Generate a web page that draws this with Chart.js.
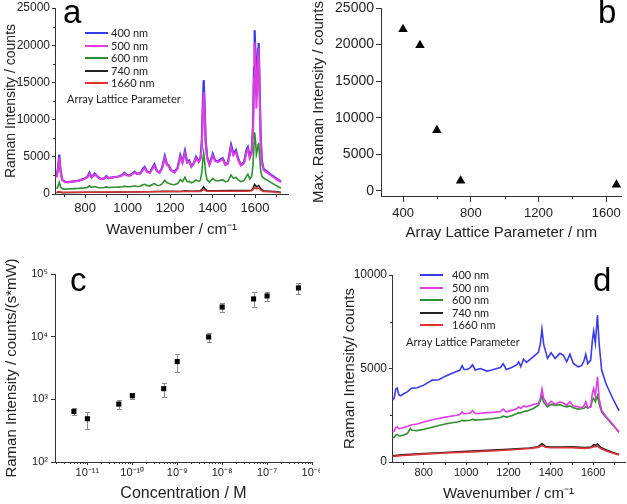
<!DOCTYPE html>
<html>
<head>
<meta charset="utf-8">
<script src="https://cdn.jsdelivr.net/npm/chart.js@4.4.1/dist/chart.umd.min.js"></script>
<style>
  body { margin: 0; background: #fff; }
  #page { position: relative; width: 627px; height: 504px; overflow: hidden; font-family: "Liberation Sans", Arial, sans-serif; }
  #page canvas { position: absolute; }
  .letter { position: absolute; font-size: 33px; line-height: 33px; color: #000; }
  .leg { position: absolute; font-family: Lato, "Open Sans", sans-serif; font-size: 11px; line-height: 12px; color: #222; white-space: nowrap; }
  .swatch { position: absolute; height: 2px; width: 23px; }
</style>
</head>
<body>
<div id="page">
  <canvas id="chartA" width="310" height="250" style="left:0;top:0"></canvas>
  <canvas id="chartB" width="317" height="250" style="left:310px;top:0"></canvas>
  <canvas id="chartC" width="320" height="254" style="left:0;top:250px"></canvas>
  <canvas id="chartD" width="317" height="254" style="left:310px;top:250px"></canvas>
  <div class="letter" style="left:63px;top:-5px">a</div>
  <div class="letter" style="left:598px;top:-5px">b</div>
  <div class="letter" style="left:70px;top:263px">c</div>
  <div class="letter" style="left:593px;top:263px">d</div>
</div>
<script>
// ---- data ----
const seriesLabels = ["400 nm", "500 nm", "600 nm", "740 nm", "1660 nm"];
const seriesColors = ["#3a3ae6", "#e03ce0", "#2f8f2f", "#222222", "#e03333"];

// panel a: full spectra
const waveA = [665, 672, 678, 684, 692, 705, 720, 745, 770, 795,
  810, 820, 830, 845, 860, 875, 890, 900, 910, 930,
  955, 975, 985, 995, 1010, 1025, 1032, 1045, 1060, 1072,
  1080, 1092, 1105, 1118, 1126, 1138, 1150, 1162, 1175, 1185,
  1192, 1205, 1220, 1235, 1248, 1258, 1270, 1280, 1290, 1300,
  1312, 1322, 1335, 1343, 1349, 1354, 1358, 1362, 1367, 1374,
  1385, 1401, 1412, 1425, 1435, 1448, 1460, 1472, 1487, 1498,
  1510, 1520, 1533, 1548, 1560, 1566, 1575, 1584, 1590, 1595,
  1598, 1602, 1606, 1610, 1614, 1617, 1621, 1626, 1632, 1640,
  1660, 1690, 1722];
const blueA = [2300, 3400, 5300, 3200, 1900, 1650, 1600, 1700, 1800, 2050,
  2300, 2850, 2250, 2750, 2300, 2000, 2100, 2400, 2150, 2250,
  2350, 2550, 2850, 2550, 2500, 2800, 3000, 2700, 2800, 3400,
  3650, 3000, 2900, 3600, 4000, 3100, 2900, 3500, 5100, 4000,
  3900, 3200, 2950, 3500, 5200, 4300, 5800, 4300, 4500, 3700,
  4200, 5000, 4400, 4800, 7000, 12000, 15300, 12500, 7500, 5000,
  4000, 5400, 4500, 4400, 4600, 4800, 4000, 4200, 6600, 5400,
  5900, 4800, 3900, 4300, 6000, 6300, 5000, 5800, 9000, 17000,
  22000, 18500, 14500, 16500, 19500, 20300, 15000, 8000, 4500, 3400,
  2900, 2300, 1650];
const magentaA = [2200, 3200, 4900, 3000, 1850, 1600, 1570, 1680, 1780, 2000,
  2250, 2700, 2200, 2600, 2250, 1980, 2080, 2350, 2120, 2220,
  2320, 2500, 2750, 2500, 2470, 2720, 2900, 2650, 2760, 3250,
  3500, 2950, 2850, 3450, 3800, 3050, 2850, 3400, 4850, 3900,
  3800, 3150, 2900, 3400, 4950, 4200, 5500, 4200, 4350, 3650,
  4100, 4800, 4300, 4650, 6500, 10800, 13700, 11300, 6900, 4800,
  3900, 5150, 4400, 4300, 4450, 4650, 3900, 4100, 6250, 5200,
  5650, 4650, 3800, 4150, 5700, 6000, 4850, 5500, 8200, 15500,
  20400, 17000, 11500, 14000, 18500, 19600, 14000, 7500, 4200, 3200,
  2800, 2200, 1600];
const greenA = [700, 1000, 1600, 1000, 720, 650, 680, 720, 760, 820,
  880, 1100, 900, 1000, 880, 850, 870, 950, 880, 900,
  930, 980, 1050, 980, 970, 1050, 1100, 1000, 1050, 1250,
  1300, 1120, 1100, 1300, 1400, 1180, 1150, 1350, 1850, 1500,
  1450, 1300, 1250, 1400, 1950, 1650, 2250, 1650, 1700, 1500,
  1650, 1900, 1700, 1900, 2900, 4500, 5500, 4500, 2900, 1900,
  1600, 2100, 1800, 1750, 1850, 1900, 1650, 1700, 2550, 2100,
  2250, 1900, 1650, 1800, 2400, 2650, 2000, 2400, 3800, 6800,
  8300, 7200, 5300, 5800, 6600, 6900, 5200, 3200, 2400, 2150,
  1800, 1300, 780];
const waveALow = [665, 678, 692, 745, 820, 900, 1000, 1100, 1175, 1248,
  1270, 1300, 1343, 1352, 1358, 1364, 1374, 1401, 1487, 1560,
  1584, 1592, 1598, 1604, 1608, 1613, 1617, 1622, 1630, 1640, 1690, 1722];
const blackA = [150, 300, 180, 200, 230, 250, 280, 300, 360, 350,
  420, 380, 450, 700, 950, 700, 450, 430, 480, 470,
  520, 900, 1300, 1050, 950, 1100, 1150, 900, 600, 450, 320, 230];
const redA = [250, 330, 240, 230, 240, 260, 270, 290, 320, 320,
  350, 330, 350, 480, 620, 480, 360, 360, 380, 380,
  420, 650, 880, 720, 680, 780, 800, 650, 450, 350, 260, 180];

// panel b: maximum intensity vs lattice parameter
const latticeNm = [400, 500, 600, 740, 1660];
const maxIntensity = [22100, 19900, 8300, 1400, 850];

// panel c: concentration series
const concM = [5e-12, 1e-11, 5e-11, 1e-10, 5e-10, 1e-9, 5e-9, 1e-8, 5e-8, 1e-7, 5e-7];
const intensityC = [640, 490, 840, 1140, 1480, 4000, 9900, 29700, 40000, 44600, 60000];
const errLowC = [570, 340, 705, 1020, 1100, 2740, 8100, 24500, 29700, 36600, 48000];
const errHighC = [720, 620, 960, 1260, 1820, 5280, 11500, 35000, 51000, 52000, 71000];

// panel d: background spectra
const waveD = [652, 660, 668, 675, 682, 690, 705, 722, 737, 745,
  769, 800, 840, 871, 902, 934, 957, 970, 981, 990,
  1005, 1020, 1030, 1043, 1067, 1098, 1121, 1145, 1162, 1175,
  1190, 1215, 1240, 1248, 1258, 1271, 1285, 1318, 1341, 1350,
  1358, 1366, 1384, 1401, 1420, 1443, 1459, 1475, 1490, 1506,
  1529, 1545, 1556, 1565, 1574, 1588, 1596, 1602, 1610, 1620,
  1628, 1640, 1660, 1690, 1722];
const blueD = [3300, 3400, 3900, 3950, 3600, 3540, 3650, 3750, 3900, 3950,
  3970, 4110, 4380, 4400, 4590, 4740, 4850, 4900, 5150, 4950,
  4950, 5050, 5200, 4920, 5000, 4860, 4920, 5000, 5050, 5250,
  4950, 5050, 5200, 5350, 5100, 5500, 5330, 5630, 5860, 6300,
  7100, 6300, 5540, 5840, 5540, 5810, 5700, 5360, 5760, 5270,
  5090, 5150, 5400, 5760, 5270, 5450, 6500, 7000, 6350, 7860,
  6300, 4900, 4200, 3450, 2730];
const magentaD = [1600, 1650, 1850, 1880, 1780, 1790, 1850, 1900, 1970, 1990,
  2030, 2140, 2260, 2330, 2400, 2460, 2500, 2540, 2680, 2580,
  2600, 2620, 2750, 2590, 2610, 2640, 2650, 2680, 2700, 2830,
  2680, 2760, 2860, 2950, 2860, 3000, 2950, 3080, 3130, 3400,
  3900, 3400, 3040, 3250, 3080, 3220, 3150, 3040, 3220, 3000,
  2950, 2900, 3000, 3220, 2900, 2950, 3700, 3930, 3540, 4560,
  3400, 2750, 2450, 2050, 1580];
const greenD = [1290, 1320, 1450, 1470, 1400, 1390, 1450, 1520, 1790, 1700,
  1680, 1750, 1860, 1950, 2030, 2100, 2140, 2170, 2230, 2200,
  2220, 2230, 2280, 2240, 2260, 2290, 2310, 2350, 2380, 2450,
  2400, 2470, 2590, 2640, 2620, 2700, 2720, 2860, 3040, 3250,
  3540, 3200, 2950, 3080, 3040, 3060, 3000, 2950, 3000, 2900,
  2830, 2850, 2870, 2950, 2880, 2950, 3300, 3400, 3220, 3540,
  3100, 2650, 2400, 2000, 1610];
const waveDLow = [652, 700, 800, 900, 1000, 1100, 1200, 1300, 1340, 1358,
  1375, 1400, 1450, 1500, 1560, 1590, 1602, 1612, 1620, 1635, 1660, 1690, 1722];
const blackD = [330, 380, 450, 510, 570, 620, 680, 750, 820, 990,
  830, 800, 800, 810, 770, 800, 930, 900, 960, 780, 650, 520, 400];
const redD = [300, 350, 420, 480, 530, 580, 640, 720, 780, 880,
  790, 760, 760, 770, 730, 760, 830, 820, 850, 720, 600, 480, 380];

// tick values
const ticksWave = [800, 1000, 1200, 1400, 1600];
const minorWave = [700, 900, 1100, 1300, 1500, 1700];
const ticksA = [0, 5000, 10000, 15000, 20000, 25000];
const minorA = [2500, 7500, 12500, 17500, 22500];
const ticksBx = [400, 800, 1200, 1600];
const minorBx = [600, 1000, 1400];
const ticksBy = [0, 5000, 10000, 15000, 20000, 25000];
const ticksCx = [1e-11, 1e-10, 1e-9, 1e-8, 1e-7, 1e-6];
const ticksCy = [1e2, 1e3, 1e4, 1e5];
const ticksDy = [0, 5000, 10000];
const minorDy = [2500, 7500];

const FONT = '"Liberation Sans", Arial, sans-serif';

function pts(xs, ys) {
    return xs.map((x, i) => ({ x: x, y: ys[i] }));
}

function sup(n) {
    const map = { "-": "\u207B", "0": "\u2070", "1": "\u00B9", "2": "\u00B2", "3": "\u00B3",
        "4": "\u2074", "5": "\u2075", "6": "\u2076", "7": "\u2077", "8": "\u2078", "9": "\u2079" };
    return String(n).split("").map(c => map[c]).join("");
}

function axis(o) {
    return {
        type: o.type || "linear",
        min: o.min,
        max: o.max,
        grid: { display: true, drawOnChartArea: false, drawTicks: true, tickLength: o.tickLen, tickColor: "#333", tickWidth: 1 },
        border: { display: true, color: "#333", width: 1 },
        ticks: {
            color: "#222",
            font: { family: FONT, size: o.tickSize },
            padding: o.tickPad,
            maxRotation: 0,
            autoSkip: false,
            callback: o.label || (v => String(v))
        },
        title: {
            display: true,
            text: o.title,
            color: "#222",
            font: { family: FONT, size: o.titleSize },
            padding: o.titlePad
        },
        afterBuildTicks: s => { s.ticks = o.ticks.map(v => ({ value: v })); },
        afterFit: s => {
            if (s.isHorizontal()) s.height = o.size; else s.width = o.size;
            s.paddingLeft = 0; s.paddingRight = 0; s.paddingTop = 0; s.paddingBottom = 0;
        }
    };
}

const minorTicks = {
    id: "minorTicks",
    afterDraw(chart, args, opts) {
        const ctx = chart.ctx;
        ctx.save();
        ctx.strokeStyle = "#333";
        ctx.lineWidth = 1;
        (opts.marks || []).forEach(m => {
            const s = chart.scales[m.axis];
            m.values.forEach(v => {
                const p = Math.round(s.getPixelForValue(v)) + 0.5;
                ctx.beginPath();
                if (s.isHorizontal()) {
                    ctx.moveTo(p, s.top);
                    ctx.lineTo(p, s.top + m.len);
                } else {
                    ctx.moveTo(s.right, p);
                    ctx.lineTo(s.right - m.len, p);
                }
                ctx.stroke();
            });
        });
        ctx.restore();
    }
};

const errorBars = {
    id: "errorBars",
    beforeDatasetsDraw(chart) {
        const xs = chart.scales.x, ys = chart.scales.y, ctx = chart.ctx;
        ctx.save();
        ctx.strokeStyle = "#8c8c8c";
        ctx.lineWidth = 1;
        concM.forEach((c, i) => {
            const px = Math.round(xs.getPixelForValue(c)) + 0.5;
            const lo = Math.round(ys.getPixelForValue(errLowC[i])) + 0.5;
            const hi = Math.round(ys.getPixelForValue(errHighC[i])) + 0.5;
            ctx.beginPath();
            ctx.moveTo(px, lo); ctx.lineTo(px, hi);
            ctx.moveTo(px - 2.5, lo); ctx.lineTo(px + 2.5, lo);
            ctx.moveTo(px - 2.5, hi); ctx.lineTo(px + 2.5, hi);
            ctx.stroke();
        });
        ctx.restore();
    }
};

function lineSet(data, color, width) {
    return { data: data, showLine: true, borderColor: color, borderWidth: width, pointRadius: 0, fill: false, tension: 0 };
}

const basePlugins = { legend: { display: false }, tooltip: { enabled: false } };

// a
new Chart(document.getElementById("chartA"), {
    type: "scatter",
    data: {
        datasets: [
            lineSet(pts(waveALow, redA), seriesColors[4], 1.5),
            lineSet(pts(waveALow, blackA), seriesColors[3], 1.5),
            lineSet(pts(waveA, magentaA), seriesColors[1], 2),
            lineSet(pts(waveA, blueA), seriesColors[0], 2.2),
            lineSet(pts(waveA, greenA), seriesColors[2], 1.6)
        ]
    },
    options: {
        responsive: false, animation: false,
        layout: { padding: { top: 8, right: 22, left: 0, bottom: 0 } },
        plugins: Object.assign({ minorTicks: { marks: [
            { axis: "x", values: minorWave, len: 3 },
            { axis: "y", values: minorA, len: 2 }
        ] } }, basePlugins),
        scales: {
            x: axis({ min: 658, max: 1755, ticks: ticksWave, tickLen: 4, tickSize: 13, tickPad: 3,
                title: "Wavenumber / cm\u207B\u00B9", titleSize: 15, titlePad: { top: 0, bottom: 11 }, size: 56 }),
            y: axis({ min: 0, max: 25000, ticks: ticksA, tickLen: 3, tickSize: 12, tickPad: 2,
                title: "Raman Intensity / counts", titleSize: 14, titlePad: { top: 3, bottom: 0 }, size: 55 })
        }
    },
    plugins: [minorTicks]
});

// b
new Chart(document.getElementById("chartB"), {
    type: "scatter",
    data: {
        datasets: [{
            data: pts(latticeNm, maxIntensity),
            pointStyle: "triangle", pointRadius: 5.5,
            backgroundColor: "#000", borderColor: "#000", borderWidth: 0
        }]
    },
    options: {
        responsive: false, animation: false,
        layout: { padding: { top: 8, right: 2, left: 0, bottom: 0 } },
        plugins: Object.assign({ minorTicks: { marks: [
            { axis: "x", values: minorBx, len: 3 }
        ] } }, basePlugins),
        scales: {
            x: axis({ min: 270, max: 1690, ticks: ticksBx, tickLen: 6, tickSize: 13, tickPad: 4,
                title: "Array Lattice Parameter / nm", titleSize: 15, titlePad: { top: 0, bottom: 8 }, size: 54 }),
            y: axis({ min: -700, max: 25000, ticks: ticksBy, tickLen: 5, tickSize: 14, tickPad: 2,
                title: "Max. Raman Intensity / counts", titleSize: 15, titlePad: { top: 0, bottom: 0 }, size: 71 })
        }
    },
    plugins: [minorTicks]
});

// c
const minorCx = [];
[1e-12, 1e-11, 1e-10, 1e-9, 1e-8, 1e-7].forEach(d => {
    [2, 3, 4, 5, 6, 7, 8, 9].forEach(k => { if (d * k > 1.9e-12) minorCx.push(d * k); });
});
new Chart(document.getElementById("chartC"), {
    type: "scatter",
    data: {
        datasets: [{
            data: pts(concM, intensityC),
            pointStyle: "rect", pointRadius: 3.6,
            backgroundColor: "#000", borderColor: "#000", borderWidth: 0
        }]
    },
    options: {
        responsive: false, animation: false,
        layout: { padding: { top: 24, right: 8, left: 0, bottom: 0 } },
        plugins: Object.assign({ minorTicks: { marks: [
            { axis: "x", values: minorCx, len: 2 }
        ] } }, basePlugins),
        scales: {
            x: axis({ type: "logarithmic", min: 1.9e-12, max: 1e-6, ticks: ticksCx, tickLen: 3, tickSize: 11, tickPad: 1,
                label: v => "10" + sup(Math.round(Math.log10(v))),
                title: "Concentration / M", titleSize: 16, titlePad: { top: 0, bottom: 1 }, size: 42 }),
            y: axis({ type: "logarithmic", min: 100, max: 1e5, ticks: ticksCy, tickLen: 4, tickSize: 11, tickPad: 3,
                label: v => "10" + sup(Math.round(Math.log10(v))),
                title: "Raman Intensity / counts/(s*mW)", titleSize: 15, titlePad: { top: 3, bottom: 0 }, size: 55 })
        }
    },
    plugins: [errorBars, minorTicks]
});

// d
new Chart(document.getElementById("chartD"), {
    type: "scatter",
    data: {
        datasets: [
            lineSet(pts(waveDLow, redD), seriesColors[4], 1.6),
            lineSet(pts(waveDLow, blackD), seriesColors[3], 1.6),
            lineSet(pts(waveD, magentaD), seriesColors[1], 1.6),
            lineSet(pts(waveD, greenD), seriesColors[2], 1.6),
            lineSet(pts(waveD, blueD), seriesColors[0], 1.6)
        ]
    },
    options: {
        responsive: false, animation: false,
        layout: { padding: { top: 25, right: 2, left: 0, bottom: 0 } },
        plugins: Object.assign({ minorTicks: { marks: [
            { axis: "x", values: minorWave, len: 3 },
            { axis: "y", values: minorDy, len: 2 }
        ] } }, basePlugins),
        scales: {
            x: axis({ min: 650, max: 1750, ticks: ticksWave, tickLen: 3, tickSize: 11, tickPad: 1,
                title: "Wavenumber / cm\u207B\u00B9", titleSize: 15, titlePad: { top: 0, bottom: 1 }, size: 42 }),
            y: axis({ min: 0, max: 10000, ticks: ticksDy, tickLen: 3, tickSize: 12, tickPad: 2,
                title: "Raman Intensity/ counts", titleSize: 15, titlePad: { top: 31, bottom: 0 }, size: 82 })
        }
    },
    plugins: [minorTicks]
});

// legends (HTML text)
function addLegend(lineLeft, textLeft, firstRow, rowGap, noteLeft, noteTop) {
    const page = document.getElementById("page");
    seriesLabels.forEach((label, i) => {
        const y = firstRow + i * rowGap;
        const sw = document.createElement("div");
        sw.className = "swatch";
        sw.style.left = lineLeft + "px";
        sw.style.top = (y - 1) + "px";
        sw.style.background = seriesColors[i];
        page.appendChild(sw);
        const t = document.createElement("div");
        t.className = "leg";
        t.style.left = textLeft + "px";
        t.style.top = (y - 6) + "px";
        t.textContent = label;
        page.appendChild(t);
    });
    const note = document.createElement("div");
    note.className = "leg";
    note.style.left = noteLeft + "px";
    note.style.top = noteTop + "px";
    note.textContent = "Array Lattice Parameter";
    page.appendChild(note);
}
addLegend(85, 111, 33, 12.5, 67, 93);
addLegend(420, 452, 275, 12.5, 406, 336);
</script>
</body>
</html>
